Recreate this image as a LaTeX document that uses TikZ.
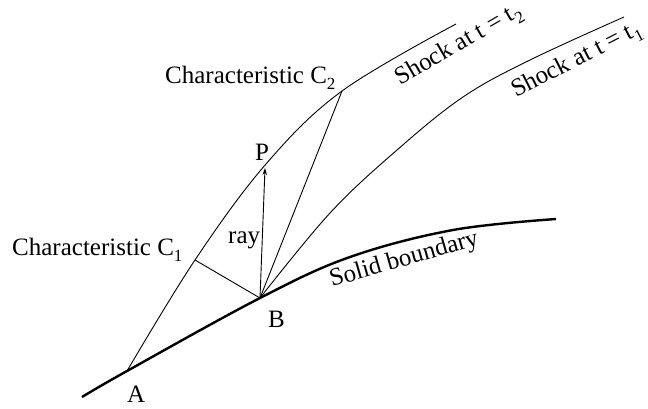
\documentclass[tikz,border=0pt]{standalone}
\usepackage{fontspec}
\setmainfont{Liberation Serif}
\usetikzlibrary{arrows.meta}
\newcommand\mysub[1]{\raisebox{-0.24em}{\fontsize{17}{17}\selectfont #1}}
\begin{document}
\begin{tikzpicture}[x=1pt,y=-1pt,
  thinline/.style={line width=0.9pt},
  thickline/.style={line width=2.4pt},
  lbl/.style={font=\fontsize{25}{30}\selectfont, inner sep=0pt, anchor=base west}]
\useasboundingbox (0,0) rectangle (648,408);
% key points
\coordinate (S0) at (82,397);
\coordinate (A) at (127,371);
\coordinate (B) at (260,298);
\coordinate (C1) at (195,260);
\coordinate (P) at (266,164);
\coordinate (Ptip) at (265,168);
\coordinate (C2) at (342,91);
\coordinate (T2end) at (456,24);
\coordinate (T1end) at (624,17);
\coordinate (Bend) at (556,219);
% solid boundary
\draw[thickline] plot[smooth, tension=0.6] coordinates {(S0) (A) (B) (350,257) (453,230) (Bend)};
% shock at t2
\draw[thinline] plot[smooth, tension=0.6] coordinates {(A) (C1) (P) (C2) (T2end)};
% shock at t1
\draw[thinline] plot[smooth, tension=0.6] coordinates {(B) (330,213) (397,150) (463,97) (530,60) (T1end)};
% characteristic lines and ray
\draw[thinline] (C1) -- (B);
\draw[thinline] (B) -- (C2);
\draw[thinline, -{Stealth[length=7pt,width=4.5pt]}] (B) -- (Ptip);
% labels
\node[lbl] (lA) at (127,402) {A};
\node[lbl] (lB) at (268,327) {B};
\node[lbl] (lP) at (255,160) {P};
\node[lbl] (lray) at (228,243) {ray};
\node[lbl] (lC1) at (12,255) {Characteristic C\mysub{1}};
\node[lbl] (lC2) at (165,83) {Characteristic C\mysub{2}};
\node[lbl, rotate=16] (lsolid) at (332,287) {Solid boundary};
\node[lbl, rotate=30] (lt2) at (400,86) {Shock at t = t\mysub{2}};
\node[lbl, rotate=27] (lt1) at (516,98) {Shock at t = t\mysub{1}};
\end{tikzpicture}
\end{document}
